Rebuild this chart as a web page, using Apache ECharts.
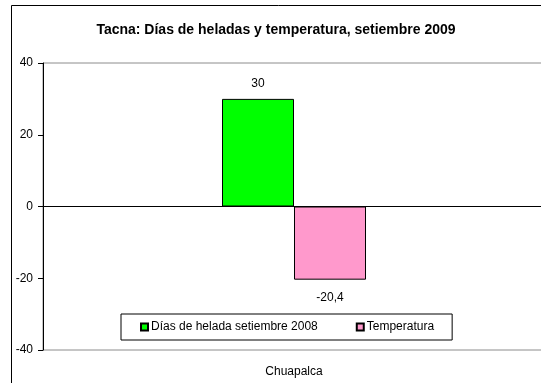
<!DOCTYPE html>
<html>
<head>
<meta charset="utf-8">
<script src="https://cdn.jsdelivr.net/npm/echarts@6/dist/echarts.min.js"></script>
<style>
  html, body { margin: 0; padding: 0; background: #fff; overflow: hidden; }
  #chart { width: 545px; height: 383px; }
</style>
</head>
<body>
<div id="chart"></div>
<script>
// Frost days and temperature at Chuapalca station
const categories = ['Chuapalca'];
const heladas = [30];
const temperatura = [-20.4];
const seriesNames = ['Días de helada setiembre 2008', 'Temperatura'];
const yTicks = { min: -40, max: 40, interval: 20 };

const FONT = '"Liberation Sans", Arial, sans-serif';

const chart = echarts.init(document.getElementById('chart'), null, { renderer: 'canvas' });

const fmtComma = v => String(v).replace('.', ',');

chart.setOption({
  backgroundColor: '#fff',
  animation: false,
  title: {
    text: 'Tacna: Días de heladas y temperatura, setiembre 2009',
    left: 271,
    textAlign: 'center',
    top: 18,
    textStyle: { fontFamily: FONT, fontSize: 14, fontWeight: 'bold', color: '#000' }
  },
  legend: {
    left: 121,
    top: 314,
    width: 337,
    height: 25,
    padding: [7, 18, 7, 19],
    itemGap: 38,
    itemWidth: 7,
    itemHeight: 7,
    borderColor: '#000',
    borderWidth: 1,
    icon: 'rect',
    textStyle: { fontFamily: FONT, fontSize: 12, color: '#000', padding: [0, 0, 0, -2] },
    data: seriesNames
  },
  grid: {
    left: 43,
    right: 0,
    top: 63,
    bottom: 33,
    show: true,
    borderColor: '#8c8c8c',
    borderWidth: 1,
    containLabel: false
  },
  graphic: [{
    type: 'rect',
    shape: { x: 11.5, y: 5.5, width: 700, height: 700 },
    style: { fill: null, stroke: '#000', lineWidth: 1 },
    silent: true,
    z: 100
  }],
  xAxis: {
    type: 'category',
    data: categories,
    axisLine: { onZero: false, show: false },
    axisTick: { show: false },
    axisLabel: { fontFamily: FONT, fontSize: 12, color: '#000', margin: 16 }
  },
  yAxis: {
    type: 'value',
    min: yTicks.min,
    max: yTicks.max,
    interval: yTicks.interval,
    axisLine: { show: true, lineStyle: { color: '#000', width: 1 } },
    axisTick: { show: true, length: 5, lineStyle: { color: '#000' } },
    splitLine: { show: false },
    axisLabel: { fontFamily: FONT, fontSize: 12, color: '#000', margin: 10 }
  },
  series: [
    {
      name: seriesNames[0],
      type: 'bar',
      data: heladas,
      barWidth: 72,
      barGap: '0%',
      itemStyle: { color: '#00ff00', borderColor: '#000', borderWidth: 1 },
      label: {
        show: true, position: 'top', distance: 9,
        fontFamily: FONT, fontSize: 12, color: '#000',
        formatter: p => fmtComma(p.value)
      },
      markLine: {
        silent: true,
        symbol: 'none',
        label: { show: false },
        lineStyle: { color: '#000', width: 1, type: 'solid' },
        data: [{ yAxis: 0 }]
      }
    },
    {
      name: seriesNames[1],
      type: 'bar',
      data: temperatura,
      barWidth: 72,
      barGap: '0%',
      itemStyle: { color: '#ff99cc', borderColor: '#000', borderWidth: 1 },
      label: {
        show: true, position: 'bottom', distance: 12,
        fontFamily: FONT, fontSize: 12, color: '#000',
        formatter: p => fmtComma(p.value)
      }
    }
  ]
});
</script>
</body>
</html>
